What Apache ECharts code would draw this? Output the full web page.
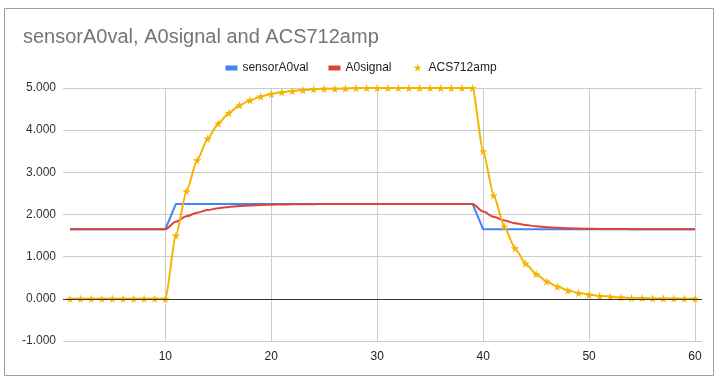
<!DOCTYPE html>
<html><head><meta charset="utf-8">
<script src="https://cdn.jsdelivr.net/npm/echarts@6/dist/echarts.min.js"></script>
<style>html,body{margin:0;padding:0;background:#fff}#c{width:722px;height:381px}</style>
</head><body><div id="c"></div>
<script>
const xValues = [1,2,3,4,5,6,7,8,9,10,11,12,13,14,15,16,17,18,19,20,21,22,23,24,25,26,27,28,29,30,31,32,33,34,35,36,37,38,39,40,41,42,43,44,45,46,47,48,49,50,51,52,53,54,55,56,57,58,59,60];
const sensorA0val = [1.65,1.65,1.65,1.65,1.65,1.65,1.65,1.65,1.65,1.65,
  2.25,2.25,2.25,2.25,2.25,2.25,2.25,2.25,2.25,2.25,2.25,2.25,2.25,2.25,2.25,2.25,2.25,2.25,2.25,2.25,2.25,2.25,2.25,2.25,2.25,2.25,2.25,2.25,2.25,
  1.65,1.65,1.65,1.65,1.65,1.65,1.65,1.65,1.65,1.65,1.65,1.65,1.65,1.65,1.65,1.65,1.65,1.65,1.65,1.65,1.65];
const A0signal = [1.65,1.65,1.65,1.65,1.65,1.65,1.65,1.65,1.65,1.65,
  1.83,1.956,2.044,2.106,2.149,2.179,2.20,2.216,2.226,2.233,2.238,2.242,2.244,2.246,2.248,2.248,2.249,2.25,2.25,2.25,2.25,2.25,2.25,2.25,2.25,2.25,2.25,2.25,2.25,
  2.07,1.944,1.856,1.794,1.751,1.721,1.699,1.685,1.674,1.667,1.662,1.658,1.656,1.654,1.653,1.652,1.651,1.65,1.65,1.65,1.65];
const ACS712amp = [0,0,0,0,0,0,0,0,0,0,
  1.5,2.55,3.285,3.80,4.16,4.41,4.59,4.71,4.80,4.86,4.90,4.93,4.95,4.97,4.98,4.98,4.99,5,5,5,5,5,5,5,5,5,5,5,5,
  3.5,2.45,1.715,1.2,0.84,0.59,0.41,0.29,0.20,0.14,0.10,0.07,0.05,0.03,0.02,0.02,0.01,0.01,0.01,0,0];
const xTicks = [10,20,30,40,50,60];
const yTicks = [-1,0,1,2,3,4,5];
const seriesNames = ['sensorA0val','A0signal','ACS712amp'];

const STAR = 'path://M50,0L61,35L98,35L68,57L79,91L50,70L21,91L32,57L2,35L39,35Z';
const STARICON = 'path://M-20,-20M50,0L61,35L98,35L68,57L79,91L50,70L21,91L32,57L2,35L39,35ZM120,120';
const LINEICON = 'path://M0,0M0,3.5H12V8.5H0ZM12,12';
const pair = arr => arr.map((v,i)=>[xValues[i], v]);

const chart = echarts.init(document.getElementById('c'), null, {renderer:'canvas'});
chart.setOption({
  animation:false,
  backgroundColor:'#fff',
  textStyle:{fontFamily:'Liberation Sans, Arial, sans-serif'},
  graphic:[{type:'rect',shape:{x:4.5,y:8.5,width:709,height:367},style:{fill:'none',stroke:'#9e9e9e',lineWidth:1},silent:true}],
  title:{text:'sensorA0val, A0signal and ACS712amp',left:18,top:22,
    textStyle:{fontFamily:'Liberation Sans, Arial, sans-serif',fontSize:20,fontWeight:'normal',color:'#757575'}},
  legend:{top:57,left:'center',itemGap:20,itemWidth:12,itemHeight:12,
    textStyle:{fontSize:12,color:'#222'},
    data:[{name:seriesNames[0],icon:LINEICON},{name:seriesNames[1],icon:LINEICON},{name:seriesNames[2],icon:STARICON}]},
  grid:{left:63,right:20,top:88,bottom:40,containLabel:false},
  xAxis:{type:'value',min:0.34,max:60.66,
    axisLine:{show:false},
    axisTick:{show:false,customValues:xTicks},
    axisLabel:{customValues:xTicks,color:'#222',fontSize:12,margin:10},
    splitLine:{show:true,lineStyle:{color:'#cccccc',width:1}}},
  yAxis:{type:'value',min:-1,max:5,interval:1,
    axisLine:{show:false},axisTick:{show:false},
    axisLabel:{formatter:v=>v.toFixed(3),color:'#333',fontSize:12,margin:7},
    splitLine:{lineStyle:{color:'#cccccc',width:1}}},
  series:[
    {name:seriesNames[0],type:'line',data:pair(sensorA0val),showSymbol:false,symbol:'none',
      lineStyle:{color:'#4285F4',width:2},itemStyle:{color:'#4285F4'},z:2,
      markLine:{silent:true,symbol:'none',label:{show:false},lineStyle:{color:'#333',width:1,type:'solid'},data:[{yAxis:0}]}},
    {name:seriesNames[1],type:'line',data:pair(A0signal),showSymbol:false,symbol:'none',smooth:0.3,smoothMonotone:'x',
      lineStyle:{color:'#DB4437',width:2},itemStyle:{color:'#DB4437'},z:3},
    {name:seriesNames[2],type:'line',data:pair(ACS712amp),symbol:STAR,symbolSize:8.5,showAllSymbol:true,smooth:0.2,smoothMonotone:'x',
      lineStyle:{color:'#F4B400',width:2},itemStyle:{color:'#F4B400'},z:4}
  ]
});
</script></body></html>
